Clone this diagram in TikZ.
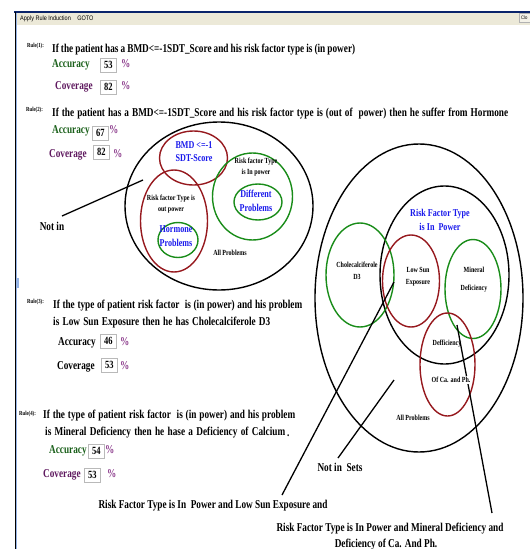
\documentclass[tikz,border=0pt]{standalone}
\usepackage{fontspec}
\setmainfont{Liberation Serif}[FakeStretch=0.77]
\newfontfamily\uifont{Liberation Sans}[FakeStretch=0.85]
\usetikzlibrary{shapes.geometric}
\definecolor{accgreen}{RGB}{25,95,25}
\definecolor{covpurple}{RGB}{95,25,95}
\definecolor{pctpurple}{RGB}{140,60,140}
\definecolor{setred}{RGB}{150,25,30}
\definecolor{setgreen}{RGB}{25,140,25}
\definecolor{setblue}{RGB}{25,25,235}
\definecolor{barbeige}{RGB}{236,233,216}
\definecolor{bartop}{RGB}{10,36,106}
\definecolor{edgeblue}{RGB}{150,180,230}
\newcommand\spreadto[2]{\makebox[#1][s]{#2}}
\begin{document}
\begin{tikzpicture}[x=1pt,y=-1pt,
  uitxt/.style={anchor=west, inner sep=0pt, font=\uifont\fontsize{6.5}{7}\selectfont},
  ruletag/.style={anchor=base west, inner sep=0pt, font=\fontsize{6.2}{7}\selectfont\bfseries},
  ruletxt/.style={anchor=base west, inner sep=0pt, font=\fontsize{12}{13}\selectfont\bfseries},
  acclbl/.style={ruletxt, text=accgreen},
  covlbl/.style={ruletxt, text=covpurple},
  pct/.style={ruletxt, text=pctpurple},
  valbox/.style={draw=gray!55, fill=white, line width=0.7pt, anchor=north west,
    minimum width=16pt, minimum height=14pt, inner sep=0pt,
    font=\fontsize{11}{13}\selectfont\bfseries},
  setline/.style={ellipse, draw, line width=1.4pt, inner sep=0pt},
  redset/.style={setline, draw=setred},
  greenset/.style={setline, draw=setgreen},
  blackset/.style={setline, draw=black},
  bluelbl/.style={text=setblue, align=center, inner sep=0pt, font=\fontsize{10.5}{13}\selectfont\bfseries},
  smalllbl/.style={align=center, inner sep=0pt, font=\fontsize{7.8}{11}\selectfont\bfseries},
  annot/.style={anchor=base, inner sep=0pt, font=\fontsize{12}{13}\selectfont\bfseries},
  pointer/.style={line width=1.3pt, black}
]
\useasboundingbox (0,0) rectangle (530,549);

% window frame and menu bar
\fill[barbeige] (15,13) rectangle (530,25);
\draw[bartop, line width=1.6pt] (14.2,12) -- (530,12);
\draw[black, line width=1pt] (15,12) -- (15,549);
\draw[edgeblue, line width=0.8pt] (16.4,13) -- (16.4,549);
\fill[edgeblue] (15.5,278) rectangle (18.5,288);
\node[uitxt] (menu) at (20,19) {Apply Rule Induction\quad GOTO};
\node[draw=gray!60, fill=barbeige!60, anchor=north west, minimum width=11pt, minimum height=9pt,
  inner sep=0.3pt, font=\uifont\fontsize{5}{6}\selectfont] (closebtn) at (518.5,13) {Clo};

% Rule 1
\node[ruletag] (tag1) at (27,47) {Rule(1):};
\node[ruletxt] (rule1) at (52,52) {\spreadto{303pt}{If the patient has a BMD{<}=-1SDT\_Score and his risk factor type is (in power)}};
\node[acclbl] (acc1) at (52,67) {Accuracy};
\node[valbox] (accv1) at (100,58) {53};
\node[pct] (accp1) at (121,67) {\%};
\node[covlbl] (cov1) at (55,89) {Coverage};
\node[valbox] (covv1) at (100,80) {82};
\node[pct] (covp1) at (121,89) {\%};

% Rule 2
\node[ruletag] (tag2) at (26,111) {Rule(2):};
\node[ruletxt] (rule2) at (52,116) {\spreadto{456pt}{If the patient has a BMD{<}=-1SDT\_Score and his risk factor type is (out of~ power) then he suffer from Hormone}};
\node[acclbl] (acc2) at (52,133) {Accuracy};
\node[valbox] (accv2) at (92,126) {67};
\node[pct] (accp2) at (109,133) {\%};
\node[covlbl] (cov2) at (49,157) {Coverage};
\node[valbox] (covv2) at (93,145) {82};
\node[pct] (covp2) at (113,157) {\%};

% Rule 3
\node[ruletag] (tag3) at (27,303) {Rule(3):};
\node[ruletxt] (rule3a) at (53,308) {\spreadto{249pt}{If the type of patient risk factor~ is (in power) and his problem}};
\node[ruletxt] (rule3b) at (53,325) {\spreadto{217pt}{is Low Sun Exposure then he has Cholecalciferole D3}};
\node[ruletxt] (acc3) at (58,345) {Accuracy};
\node[valbox] (accv3) at (100,334) {46};
\node[pct] (accp3) at (120,345) {\%};
\node[ruletxt] (cov3) at (57,369) {Coverage};
\node[valbox] (covv3) at (101,358) {53};
\node[pct] (covp3) at (120,369) {\%};

% Rule 4
\node[ruletag] (tag4) at (19,415) {Rule(4):};
\node[ruletxt] (rule4a) at (43,418) {\spreadto{252pt}{If the type of patient risk factor~ is (in power) and his problem}};
\node[ruletxt] (rule4b) at (45,435) {\spreadto{240pt}{is Mineral Deficiency then he hase a Deficiency of Calcium}\,\raisebox{-1pt}{.}};
\node[acclbl] (acc4) at (49,453) {Accuracy};
\node[valbox] (accv4) at (88,444) {54};
\node[pct] (accp4) at (105,453) {\%};
\node[covlbl] (cov4) at (43,477) {Coverage};
\node[valbox] (covv4) at (84,468) {53};
\node[pct] (covp4) at (107,477) {\%};

% Sets for rule 2
\node[blackset, minimum width=188pt, minimum height=168pt] (allL) at (219,206) {};
\node[redset, minimum width=68pt, minimum height=54pt] (bmd) at (193.5,158) {};
\node[greenset, minimum width=80pt, minimum height=87pt] (inpowerL) at (252.5,196.5) {};
\node[greenset, minimum width=48pt, minimum height=36pt] (diffprob) at (258,202) {};
\node[redset, minimum width=67pt, minimum height=102pt] (outpower) at (174,221) {};
\node[greenset, minimum width=40pt, minimum height=35pt] (hormone) at (178,240) {};

\node[bluelbl] (bmdlbl) at (194,151.5) {BMD {<}=-1\\SDT-Score};
\node[smalllbl] (inpowerlbl) at (256,167.5) {Risk factor Type\\is In power};
\node[bluelbl, font=\fontsize{10.5}{14}\selectfont\bfseries] (difflbl) at (256,201) {Different\\Problems};
\node[smalllbl] (outpowerlbl) at (171,204.5) {Risk factor Type is\\out power};
\node[bluelbl, font=\fontsize{10.5}{14}\selectfont\bfseries] (hormonelbl) at (176,236) {Hormone\\Problems};
\node[smalllbl] (allLlbl) at (230,253) {All Problems};

\node[annot] (notin) at (52,230) {Not in};
\coordinate (notinTip) at (143,180);
\coordinate (notinEnd) at (62,216);
\draw[pointer] (notinTip) -- (notinEnd);

% Sets for rules 3 and 4
\node[blackset, minimum width=208pt, minimum height=308pt] (allR) at (419,298) {};
\node[blackset, minimum width=129pt, minimum height=178pt] (inpowerR) at (444.5,275) {};
\node[greenset, minimum width=68pt, minimum height=104pt] (chole) at (360,275) {};
\node[redset, minimum width=57pt, minimum height=92pt] (lowsun) at (411,281) {};
\node[greenset, minimum width=56pt, minimum height=99pt] (mineral) at (473,289) {};
\node[redset, minimum width=55pt, minimum height=103pt] (defca) at (447.5,364.5) {};

\coordinate (lowsunTip) at (394,282);
\coordinate (lowsunEnd) at (282,495);
\coordinate (setsTip) at (394,380);
\coordinate (setsEnd) at (338,458);
\coordinate (mineralTip) at (457,325);
\coordinate (mineralEnd) at (492,513);
\draw[pointer] (lowsunTip) -- (lowsunEnd);
\draw[pointer] (setsTip) -- (setsEnd);
\draw[pointer] (mineralTip) -- (mineralEnd);

\node[bluelbl, font=\fontsize{10.5}{14}\selectfont\bfseries] (inpowerRlbl) at (440,220) {Risk Factor Type\\is In~ Power};
\node[smalllbl, font=\fontsize{7.8}{12}\selectfont\bfseries] (cholelbl) at (357,271) {Cholecalciferole\\D3};
\node[smalllbl, font=\fontsize{7.8}{12}\selectfont\bfseries] (lowsunlbl) at (418,277) {Low Sun\\Exposure};
\node[smalllbl, font=\fontsize{7.8}{18}\selectfont\bfseries] (minerallbl) at (474,280) {Mineral\\Deficiency};
\node[smalllbl] (deflbl) at (447,344) {Defficiency};
\node[smalllbl, fill=white, inner sep=1pt] (calbl) at (451,380) {Of Ca. and Ph.};
\node[smalllbl] (allRlbl) at (413,418) {All Problems};

\node[annot] (notsets) at (340,471) {Not in~ Sets};
\node[annot] (lowsunann) at (213,508) {Risk Factor Type is In~ Power and Low Sun Exposure and};
\node[annot] (mineralann) at (390,531) {Risk Factor Type is In Power and Mineral Deficiency and};
\node[annot] (mineralann2) at (386,547) {Deficiency of Ca. And Ph.};
\end{tikzpicture}
\end{document}
